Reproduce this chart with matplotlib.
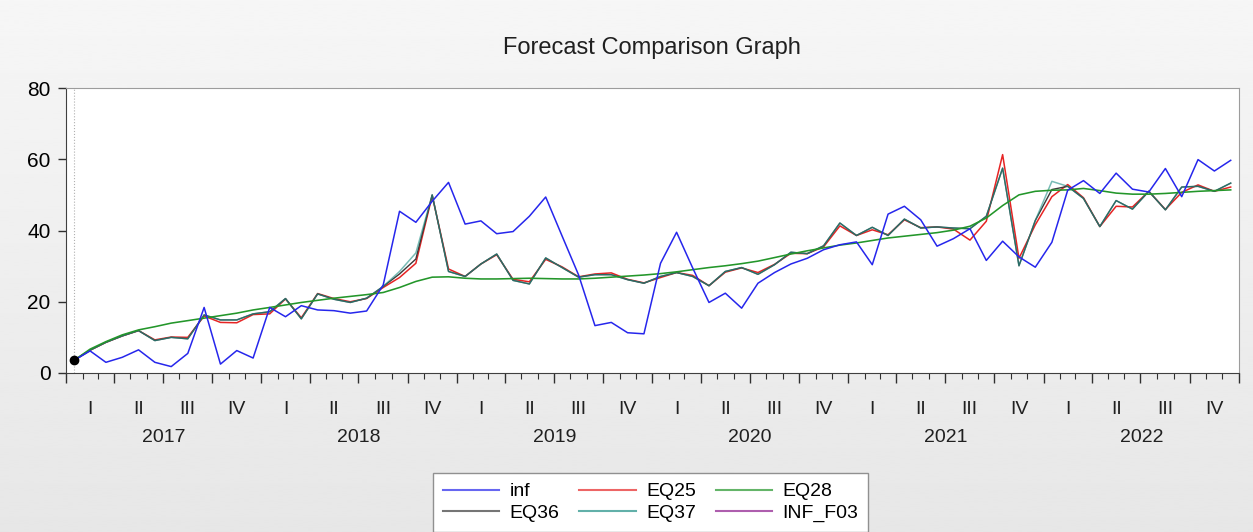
import matplotlib
matplotlib.use('Agg')
import matplotlib.pyplot as plt
import matplotlib.dates as mdates
import numpy as np
import pandas as pd

plt.rcParams['font.family'] = ['Liberation Sans', 'DejaVu Sans']

# monthly sample 2017M01 - 2022M12
months = pd.date_range('2017-01-01', periods=72, freq='MS')

inf = [3.6, 6.2, 3.0, 4.4, 6.5, 3.0, 1.8, 5.5, 18.4, 2.5, 6.3, 4.2,
       18.4, 15.8, 18.9, 17.7, 17.5, 16.8, 17.4, 24.7, 45.4, 42.3, 48.2, 53.5,
       41.8, 42.7, 39.1, 39.7, 44.0, 49.4, 38.5, 27.5, 13.3, 14.2, 11.3, 11.0,
       30.8, 39.5, 29.5, 19.8, 22.4, 18.2, 25.2, 28.2, 30.6, 32.2, 34.6, 36.0,
       36.8, 30.4, 44.6, 46.8, 43.0, 35.6, 37.7, 40.5, 31.6, 37.0, 32.6, 29.7,
       36.7, 51.3, 54.0, 50.4, 56.1, 51.6, 50.8, 57.4, 49.5, 59.9, 56.7, 59.7]

eq25 = [3.6, 6.4, 8.6, 10.4, 11.9, 9.3, 10.1, 10.0, 16.0, 14.2, 14.1, 16.4,
        16.6, 20.8, 15.5, 22.3, 20.9, 20.0, 20.9, 24.0, 26.8, 30.8, 49.8, 29.2,
        27.1, 30.6, 33.2, 26.3, 25.6, 31.9, 29.8, 27.0, 27.8, 28.1, 26.3, 25.3,
        26.8, 28.2, 27.4, 24.5, 28.3, 29.5, 28.2, 30.5, 33.6, 33.5, 35.4, 41.3,
        38.6, 40.2, 38.8, 43.0, 40.8, 41.0, 40.4, 37.3, 42.6, 61.3, 32.2, 41.6,
        49.5, 52.9, 49.2, 41.1, 46.8, 46.6, 51.0, 45.9, 50.7, 52.8, 51.0, 52.2]

eq28 = [3.6, 6.7, 8.8, 10.7, 12.1, 13.0, 14.0, 14.7, 15.4, 16.1, 16.8, 17.7,
        18.4, 19.1, 19.8, 20.4, 21.0, 21.5, 22.0, 22.6, 24.0, 25.7, 26.9, 27.0,
        26.6, 26.4, 26.4, 26.5, 26.6, 26.5, 26.4, 26.4, 26.6, 26.9, 27.2, 27.5,
        27.9, 28.4, 29.0, 29.6, 30.1, 30.7, 31.4, 32.4, 33.4, 34.3, 35.1, 35.9,
        36.5, 37.2, 37.9, 38.4, 38.9, 39.4, 40.1, 41.2, 43.5, 47.0, 50.0, 51.0,
        51.3, 51.4, 51.8, 51.2, 50.5, 50.2, 50.2, 50.4, 50.7, 51.0, 51.2, 51.4]

eq36 = [3.6, 6.4, 8.6, 10.4, 11.9, 9.1, 10.0, 9.6, 16.3, 14.9, 14.9, 16.6,
        17.2, 20.9, 15.2, 22.2, 20.7, 19.8, 21.0, 24.3, 27.8, 32.0, 50.0, 28.5,
        27.1, 30.6, 33.4, 26.0, 25.0, 32.3, 29.6, 26.9, 27.6, 27.6, 26.2, 25.2,
        27.1, 28.2, 27.1, 24.5, 28.5, 29.6, 27.7, 30.4, 33.9, 33.5, 35.7, 42.1,
        38.6, 40.9, 38.6, 43.2, 40.7, 41.0, 40.7, 40.5, 44.0, 57.5, 30.1, 42.8,
        51.5, 52.4, 49.0, 41.1, 48.4, 46.0, 51.0, 45.8, 52.2, 52.4, 51.0, 53.3]

eq37 = [3.6, 6.4, 8.6, 10.4, 11.9, 9.1, 10.0, 9.6, 16.3, 14.9, 14.9, 16.6,
        17.2, 20.9, 15.2, 22.2, 20.7, 19.8, 21.0, 24.3, 28.5, 33.7, 50.0, 28.5,
        27.1, 30.6, 33.4, 26.0, 25.0, 32.3, 29.6, 26.9, 27.6, 27.6, 26.2, 25.2,
        27.1, 28.2, 27.1, 24.5, 28.5, 29.6, 27.7, 30.4, 33.9, 33.5, 35.7, 42.1,
        38.6, 40.9, 38.6, 43.2, 40.7, 41.0, 40.7, 40.5, 44.0, 57.5, 30.1, 42.8,
        53.8, 52.4, 49.0, 41.1, 48.4, 46.0, 51.0, 45.8, 52.2, 52.4, 51.0, 53.3]

# INF_F03 only holds the forecast origin
inf_f03 = [3.6]

quarter_names = ['I', 'II', 'III', 'IV']
years = [2017, 2018, 2019, 2020, 2021, 2022]

# plot each month at its mid point
mid = months + pd.to_timedelta(months.days_in_month / 2.0, unit='D')

fig = plt.figure(figsize=(12.53, 5.32), dpi=100)
bg = fig.add_axes([0, 0, 1, 1], zorder=-10)
bg.imshow(np.linspace(0.965, 0.905, 200).reshape(-1, 1), cmap='gray', vmin=0, vmax=1,
          aspect='auto', extent=[0, 1, 0, 1])
bg.axis('off')

ax = fig.add_axes([66 / 1253, 159 / 532, 1173 / 1253, 285 / 532])
ax.set_facecolor('white')

l_inf, = ax.plot(mid, inf, color='#2626ec', lw=1.1, zorder=3.0, label='inf')
l25, = ax.plot(mid, eq25, color='#e62424', lw=1.1, zorder=2.0, label='EQ25')
l28, = ax.plot(mid, eq28, color='#23962a', lw=1.15, zorder=2.6, label='EQ28')
l36, = ax.plot(mid, eq36, color='#3a3a3a', lw=1.0, zorder=2.1, label='EQ36')
l37, = ax.plot(mid, eq37, color='#1f8f85', lw=1.1, zorder=2.2, alpha=0.6, label='EQ37')
lf03, = ax.plot(mid[:len(inf_f03)], inf_f03, color='#8c1a8c', lw=1.1, zorder=2.3, label='INF_F03')
ax.plot(mid[0], inf_f03[0], 'o', color='black', ms=6, zorder=4)
ax.axvline(mid[0], color='#b0b0b0', lw=0.8, ls=':', zorder=1)

ax.set_ylim(0, 80)
ax.set_yticks([0, 20, 40, 60, 80])
ax.set_xlim(pd.Timestamp('2017-01-01'), pd.Timestamp('2023-01-01'))
ax.xaxis.set_major_locator(mdates.MonthLocator(bymonth=[1, 4, 7, 10]))
ax.xaxis.set_minor_locator(mdates.MonthLocator())
ax.tick_params(axis='x', which='major', direction='out', length=7.5, width=1.0,
               color='#303030', labelbottom=False)
ax.tick_params(axis='x', which='minor', direction='out', length=4, width=0.8, color='#303030')
ax.tick_params(axis='y', direction='out', length=6, width=1.0, color='#303030',
               labelsize=15, pad=5)
for side in ['left', 'bottom']:
    ax.spines[side].set_color('#404040')
for side in ['top', 'right']:
    ax.spines[side].set_color('#9c9c9c')

# quarter and year labels under the axis
xt = ax.get_xaxis_transform()
for y in years:
    for q in range(4):
        q0 = pd.Timestamp(year=y, month=3 * q + 1, day=1)
        q1 = q0 + pd.DateOffset(months=3)
        qm = q0 + (q1 - q0) / 2
        ax.text(qm, -37 / 285, quarter_names[q], transform=xt, ha='center', va='center',
                fontsize=14, color='#202020')
    ym = pd.Timestamp(year=y, month=1, day=1) + (pd.Timestamp(year=y + 1, month=1, day=1)
                                                 - pd.Timestamp(year=y, month=1, day=1)) / 2
    ax.text(ym, -64 / 285, str(y), transform=xt, ha='center', va='center',
            fontsize=14, color='#202020')

fig.text(652 / 1253, 1 - 48 / 532, 'Forecast Comparison Graph', ha='center', va='center',
         fontsize=17, color='#202020')

handles = [l_inf, l36, l25, l37, l28, lf03]
leg = fig.legend(handles, [h.get_label() for h in handles], ncol=3,
                 loc='upper left', bbox_to_anchor=(433 / 1253, 1 - 473 / 532),
                 fontsize=14, handlelength=2.9, handletextpad=0.55, columnspacing=1.0,
                 borderpad=0.5, labelspacing=0.2, fancybox=False, framealpha=1,
                 edgecolor='#909090', borderaxespad=0)
leg.get_frame().set_linewidth(1.0)
for line in leg.get_lines():
    line.set_alpha(0.7)
    line.set_linewidth(1.5)

fig.savefig('out.png', dpi=100)
